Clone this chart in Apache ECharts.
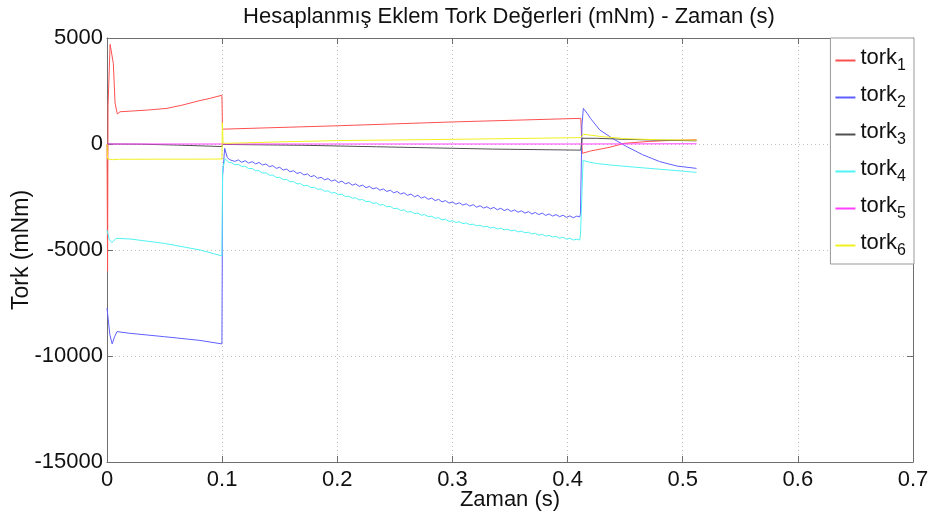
<!DOCTYPE html>
<html>
<head>
<meta charset="utf-8">
<script src="https://cdn.jsdelivr.net/npm/echarts@6/dist/echarts.min.js"></script>
<style>
html,body{margin:0;padding:0;background:#fff;}
#chart{width:936px;height:519px;}
</style>
</head>
<body>
<div id="chart"></div>
<script>
var titleText = 'Hesaplanmış Eklem Tork Değerleri (mNm) - Zaman (s)';
var xName = 'Zaman (s)';
var yName = 'Tork (mNm)';
var seriesNames = ['tork1','tork2','tork3','tork4','tork5','tork6'];
var seriesColors = ['#ff5050','#5f5fff','#505050','#50f2f2','#ff40ff','#f0f020'];

var tork1 = [[0,0],[0.0005,-6000],[0.0009,1800],[0.0027,4700],[0.0041,4780],[0.0055,3800],[0.007,1930],[0.009,1415],[0.0113,1520],[0.023,1560],[0.035,1600],[0.052,1680],[0.065,1830],[0.08,2040],[0.09,2160],[0.0998,2300],[0.1003,700],[0.2,860],[0.3,1040],[0.4115,1210],[0.4128,-440],[0.42,-330],[0.437,-150],[0.449,30],[0.47,120],[0.49,170],[0.512,200]];

var tork2 = [[0,-7740],[0.0025,-9000],[0.0045,-9430],[0.0065,-9100],[0.0087,-8850],[0.02,-8930],[0.05,-9090],[0.08,-9260],[0.0998,-9430],[0.1004,-1500],[0.1022,-200],[0.1045,-650],[0.107,-750],
[0.108,-710],[0.111,-820],[0.114,-750],[0.117,-860],[0.120,-790],[0.123,-900],[0.126,-830],[0.129,-940],[0.132,-870],[0.135,-990],[0.138,-940],[0.141,-1070],[0.144,-1020],[0.147,-1150],[0.150,-1100],[0.153,-1230],[0.156,-1180],[0.159,-1310],[0.162,-1260],[0.165,-1390],[0.168,-1340],[0.171,-1460],[0.174,-1410],[0.177,-1540],[0.180,-1490],[0.183,-1620],[0.186,-1570],[0.189,-1690],[0.192,-1630],[0.195,-1750],[0.198,-1690],[0.201,-1820],[0.204,-1750],[0.207,-1880],[0.210,-1820],[0.213,-1940],[0.216,-1880],[0.219,-2000],[0.222,-1940],[0.225,-2060],[0.228,-2000],[0.231,-2120],[0.234,-2060],[0.237,-2180],[0.240,-2120],[0.243,-2240],[0.246,-2180],[0.249,-2300],[0.252,-2240],[0.255,-2360],[0.258,-2300],[0.261,-2420],[0.264,-2360],[0.267,-2490],[0.270,-2420],[0.273,-2550],[0.276,-2490],[0.279,-2610],[0.282,-2550],[0.285,-2670],[0.288,-2610],[0.291,-2730],[0.294,-2670],[0.297,-2790],[0.300,-2730],[0.303,-2840],[0.306,-2770],[0.309,-2880],[0.312,-2820],[0.315,-2930],[0.318,-2860],[0.321,-2980],[0.324,-2910],[0.327,-3020],[0.330,-2960],[0.333,-3060],[0.336,-2990],[0.339,-3100],[0.342,-3030],[0.345,-3140],[0.348,-3070],[0.351,-3180],[0.354,-3110],[0.357,-3220],[0.360,-3150],[0.363,-3260],[0.366,-3190],[0.369,-3300],[0.372,-3230],[0.375,-3330],[0.378,-3260],[0.381,-3370],[0.384,-3300],[0.387,-3400],[0.390,-3330],[0.393,-3430],[0.396,-3360],[0.399,-3460],[0.402,-3390],[0.405,-3480],[0.408,-3400],[0.4105,-3440],
[0.4112,-3300],[0.4125,900],[0.4137,1680],[0.417,1450],[0.42,1200],[0.428,660],[0.44,230],[0.4515,-125],[0.465,-500],[0.48,-830],[0.495,-1040],[0.512,-1150]];

var tork3 = [[0,0],[0.03,-10],[0.06,-50],[0.0998,-120],[0.1003,-20],[0.17,-60],[0.234,-130],[0.335,-240],[0.4115,-290],[0.4125,270],[0.425,270],[0.45,220],[0.48,180],[0.512,150]];

var tork4 = [[0,-4060],[0.002,-4500],[0.0042,-4650],[0.008,-4450],[0.02,-4480],[0.05,-4690],[0.081,-5000],[0.0998,-5280],[0.1004,-1200],[0.1025,-700],[0.106,-880],
[0.108,-880],[0.111,-980],[0.114,-960],[0.117,-1060],[0.120,-1050],[0.123,-1160],[0.126,-1150],[0.129,-1260],[0.132,-1260],[0.135,-1370],[0.138,-1360],[0.141,-1470],[0.144,-1470],[0.147,-1580],[0.150,-1570],[0.153,-1680],[0.156,-1670],[0.159,-1780],[0.162,-1770],[0.165,-1880],[0.168,-1870],[0.171,-1970],[0.174,-1950],[0.177,-2060],[0.180,-2040],[0.183,-2140],[0.186,-2120],[0.189,-2230],[0.192,-2210],[0.195,-2310],[0.198,-2290],[0.201,-2390],[0.204,-2370],[0.207,-2480],[0.210,-2460],[0.213,-2560],[0.216,-2540],[0.219,-2640],[0.222,-2620],[0.225,-2720],[0.228,-2700],[0.231,-2800],[0.234,-2780],[0.237,-2880],[0.240,-2860],[0.243,-2960],[0.246,-2940],[0.249,-3050],[0.252,-3030],[0.255,-3130],[0.258,-3110],[0.261,-3210],[0.264,-3190],[0.267,-3280],[0.270,-3260],[0.273,-3360],[0.276,-3330],[0.279,-3430],[0.282,-3410],[0.285,-3500],[0.288,-3480],[0.291,-3580],[0.294,-3550],[0.297,-3650],[0.300,-3620],[0.303,-3700],[0.306,-3670],[0.309,-3760],[0.312,-3720],[0.315,-3810],[0.318,-3780],[0.321,-3860],[0.324,-3830],[0.327,-3910],[0.330,-3880],[0.333,-3960],[0.336,-3930],[0.339,-4010],[0.342,-3970],[0.345,-4050],[0.348,-4020],[0.351,-4100],[0.354,-4060],[0.357,-4150],[0.360,-4110],[0.363,-4190],[0.366,-4160],[0.369,-4250],[0.372,-4210],[0.375,-4300],[0.378,-4260],[0.381,-4350],[0.384,-4310],[0.387,-4390],[0.390,-4360],[0.393,-4440],[0.396,-4400],[0.399,-4490],[0.402,-4450],[0.405,-4530],[0.408,-4490],[0.4105,-4530],
[0.4112,-4300],[0.4135,-760],[0.416,-820],[0.425,-920],[0.437,-990],[0.46,-1100],[0.48,-1190],[0.5,-1280],[0.512,-1340]];

var tork5 = [[0,0],[0.1,0],[0.2,0],[0.3,0],[0.4,0],[0.512,10]];

var tork6 = [[0,0],[0.0005,-700],[0.002,-780],[0.005,-740],[0.01,-720],[0.0998,-710],[0.1002,1000],[0.1008,50],[0.103,30],[0.15,100],[0.2,160],[0.3,220],[0.4115,300],[0.4135,460],[0.43,350],[0.45,250],[0.48,200],[0.512,180]];

var seriesData = [tork1, tork2, tork3, tork4, tork5, tork6];
var xTicks = [0, 0.7, 0.1];
var yTicks = [-15000, 5000, 5000];

var FONT = '"Liberation Sans", Arial, sans-serif';
var chart = echarts.init(document.getElementById('chart'), null, {renderer: 'canvas'});

var series = seriesNames.map(function (n, i) {
  return {
    name: n, type: 'line', data: seriesData[i], showSymbol: false, symbol: 'none',
    lineStyle: {color: seriesColors[i], width: 1}, itemStyle: {color: seriesColors[i]},
    animation: false
  };
});

var axisLineStyle = {show: true, onZero: false, lineStyle: {color: '#6e6e6e', width: 1}};
var tickStyle = {show: true, inside: true, length: 6, lineStyle: {color: '#6e6e6e'}};

chart.setOption({
  animation: false,
  title: {
    text: titleText, left: 504, top: 1, textAlign: 'center',
    textStyle: {fontFamily: FONT, fontSize: 22, fontWeight: 'normal', color: '#111'}
  },
  grid: {left: 107, right: 23, top: 38, bottom: 57, containLabel: false, outerBoundsMode: 'none'},
  legend: {
    orient: 'vertical', right: 22, top: 38, width: 70,
    data: seriesNames,
    icon: 'rect', itemWidth: 20, itemHeight: 2, itemGap: 10,
    padding: [9, 8, 5, 5],
    borderColor: '#999', borderWidth: 1, backgroundColor: '#fff',
    formatter: function (name) { return '{t|tork}{s|' + name.slice(4) + '}'; },
    textStyle: {
      fontFamily: FONT, color: '#111',
      rich: {
        t: {fontFamily: FONT, fontSize: 22, lineHeight: 27, verticalAlign: 'top', color: '#111'},
        s: {fontFamily: FONT, fontSize: 16, lineHeight: 16, verticalAlign: 'bottom', color: '#111'}
      }
    }
  },
  xAxis: [{
    type: 'value', min: xTicks[0], max: xTicks[1], interval: xTicks[2],
    name: xName, nameLocation: 'middle', nameGap: 27, nameMoveOverlap: false,
    nameTextStyle: {fontFamily: FONT, fontSize: 22, color: '#111'},
    axisLine: axisLineStyle, axisTick: tickStyle,
    axisLabel: {fontFamily: FONT, fontSize: 22, color: '#111', margin: 7},
    splitLine: {show: true, lineStyle: {color: '#c0c0c0', type: [1, 3], width: 1}}
  }, {
    type: 'value', position: 'top', min: xTicks[0], max: xTicks[1], interval: xTicks[2],
    axisLine: axisLineStyle, axisTick: tickStyle, axisLabel: {show: false}, splitLine: {show: false}
  }],
  yAxis: [{
    type: 'value', min: yTicks[0], max: yTicks[1], interval: yTicks[2],
    name: yName, nameLocation: 'middle', nameGap: 74, nameRotate: 90, nameMoveOverlap: false,
    nameTextStyle: {fontFamily: FONT, fontSize: 23, color: '#111'},
    axisLine: axisLineStyle, axisTick: tickStyle,
    axisLabel: {fontFamily: FONT, fontSize: 22, color: '#111', margin: 4,
      formatter: function (v) { return String(v); }},
    splitLine: {show: true, lineStyle: {color: '#c0c0c0', type: [1, 3], width: 1}}
  }, {
    type: 'value', position: 'right', min: yTicks[0], max: yTicks[1], interval: yTicks[2],
    axisLine: axisLineStyle, axisTick: tickStyle, axisLabel: {show: false}, splitLine: {show: false}
  }],
  series: series
});
</script>
</body>
</html>
